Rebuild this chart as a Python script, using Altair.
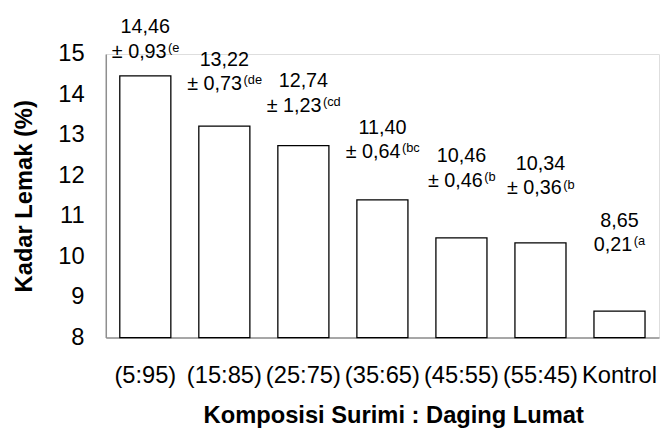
import altair as alt
import pandas as pd

categories = ["(5:95)", "(15:85)", "(25:75)", "(35:65)", "(45:55)", "(55:45)", "Kontrol"]
means = [14.46, 13.22, 12.74, 11.40, 10.46, 10.34, 8.65]
sds = [0.93, 0.73, 1.23, 0.64, 0.46, 0.36, 0.21]
letters = ["e", "de", "cd", "bc", "b", "b", "a"]
show_pm = [True, True, True, True, True, True, False]
y_ticks = [8, 9, 10, 11, 12, 13, 14, 15]
y_min, y_max = 8, 15


def comma(v):
    return f"{v:.2f}".replace(".", ",")


line1 = [comma(v) for v in means]
pm = [("± " if p else "") + comma(s) for s, p in zip(sds, show_pm)]
sup = ["(" + l for l in letters]

df = pd.DataFrame({"kat": categories, "val": means, "line1": line1, "pm": pm, "sup": sup})

FONT = "Liberation Sans"
ANN = 20      # annotation font size
SUP = 13      # superscript font size
GAP = 1.5

# approximate Arial / Liberation Sans advance widths (em) for centring "main+sup"
ADV = {c: 0.556 for c in "0123456789abde"}
ADV.update({",": 0.278, " ": 0.278, "±": 0.584, "(": 0.333, "c": 0.5})


def width(s, size):
    return sum(ADV.get(c, 0.556) for c in s) * size


# per-bar label nudges (pixels): centre of each label line above the bar top
dy2 = [-24.6, -42.2, -40.3, -48.5, -58, -54.9, -66.7]
dy1 = [d - 24.5 for d in dy2]

x_enc = alt.X("kat:N", sort=categories,
              scale=alt.Scale(paddingInner=0.354, paddingOuter=0.177),
              axis=alt.Axis(title="Komposisi Surimi : Daging Lumat", labelAngle=0,
                            ticks=False, tickSize=0, labelPadding=27,
                            labelFontSize=24, labelFont=FONT, labelColor="black",
                            titleFont=FONT, titleFontSize=24, titleFontWeight="bold",
                            titleColor="black", titleY=86, titleX=291, titleAnchor="start",
                            titleAlign="center", titleBaseline="alphabetic",
                            domainColor="#8f8f8f", domainWidth=1.5, grid=False))
y_enc = alt.Y("val:Q", scale=alt.Scale(domain=[y_min, y_max], nice=False, zero=False),
              axis=alt.Axis(title="Kadar Lemak (%)", values=y_ticks, ticks=False, tickSize=0,
                            labelPadding=22, labelFontSize=24, labelFont=FONT,
                            labelColor="black", titleFont=FONT, titleFontSize=24,
                            titleFontWeight="bold", titleColor="black", titleX=-75,
                            titleBaseline="alphabetic",
                            domainColor="#8f8f8f", domainWidth=1.5, grid=False))

base = alt.Chart(df)
bars = base.mark_bar(fill="white", stroke="black", strokeWidth=1.3).encode(
    x=x_enc, y=y_enc, y2=alt.datum(y_min))

layers = [bars]
for i, cat in enumerate(categories):
    sub = base.transform_filter(alt.datum.kat == cat)
    common = dict(font=FONT, color="black", baseline="middle")
    xe = alt.X("kat:N", sort=categories)
    wm = width(pm[i], ANN)
    ws = width(sup[i], SUP)
    main_right = -(wm + GAP + ws) / 2 + wm
    layers.append(sub.mark_text(fontSize=ANN, align="center", dy=dy1[i], **common)
                  .encode(x=xe, y="val:Q", text="line1:N"))
    layers.append(sub.mark_text(fontSize=ANN, align="right", dx=main_right, dy=dy2[i], **common)
                  .encode(x=xe, y="val:Q", text="pm:N"))
    layers.append(sub.mark_text(fontSize=SUP, align="left", dx=main_right + GAP, dy=dy2[i] - 4, **common)
                  .encode(x=xe, y="val:Q", text="sup:N"))

chart = alt.layer(*layers).properties(
    width=560, height=287,
    autosize=alt.AutoSizeParams(type="none"),
    padding={"left": 99, "top": 44, "right": 1, "bottom": 92},
).configure_view(stroke=None).configure(background="white")

chart.save("out.html", embed_options={"renderer": "svg", "actions": False})
